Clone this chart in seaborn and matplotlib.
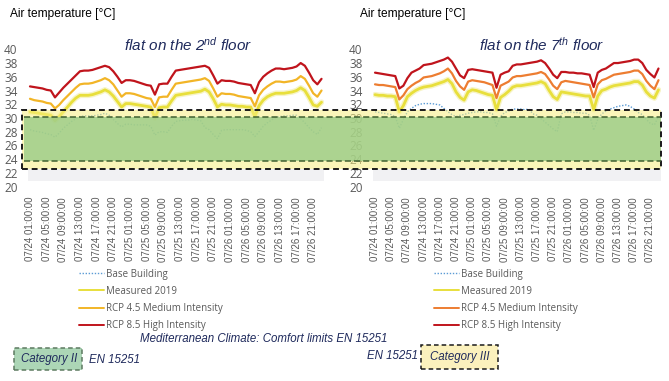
import matplotlib
matplotlib.use("Agg")
import matplotlib.pyplot as plt
import matplotlib.patheffects as pe
from matplotlib.patches import Rectangle
from matplotlib.lines import Line2D
import numpy as np
import seaborn as sns

# hourly values 07/24 01:00 -> 07/26 23:00 (71 points)
TICK_LABELS = [
    "07/24 01:00:00", "07/24 05:00:00", "07/24 09:00:00", "07/24 13:00:00",
    "07/24 17:00:00", "07/24 21:00:00", "07/25 01:00:00", "07/25 05:00:00",
    "07/25 09:00:00", "07/25 13:00:00", "07/25 17:00:00", "07/25 21:00:00",
    "07/26 01:00:00", "07/26 05:00:00", "07/26 09:00:00", "07/26 13:00:00",
    "07/26 17:00:00", "07/26 21:00:00",
]
SERIES = ["Base Building", "Measured 2019", "RCP 4.5 Medium Intensity",
          "RCP 8.5 High Intensity"]

# flat on the 2nd floor
f2_base = [28.3, 28.1, 28.0, 27.9, 27.7, 27.6, 27.2, 27.8, 28.5, 29.0, 29.5, 29.9,
           30.2, 30.3, 30.3, 30.3, 30.4, 30.5, 30.7, 30.4, 29.8, 29.2, 28.7, 29.1,
           29.1, 29.0, 29.0, 29.0, 29.0, 28.8, 27.5, 28.0, 28.0, 27.9, 28.8, 29.5,
           29.6, 29.7, 29.7, 29.8, 29.7, 29.6, 28.6, 28.3, 27.6, 27.0, 28.2, 28.3,
           28.3, 28.3, 28.3, 28.3, 28.2, 28.0, 27.3, 28.0, 28.8, 29.3, 29.7, 30.1,
           30.2, 30.3, 30.3, 30.4, 30.4, 29.9, 29.3, 28.6, 28.0, 27.6, 28.6]
f2_meas = [30.9, 30.8, 30.7, 30.6, 30.5, 30.4, 29.6, 30.2, 30.9, 31.6, 32.3, 32.9,
           33.3, 33.3, 33.3, 33.4, 33.6, 33.8, 34.1, 33.8, 33.2, 32.4, 31.6, 32.1,
           32.1, 32.0, 31.9, 31.8, 31.7, 31.6, 30.0, 31.5, 31.6, 31.6, 32.5, 33.3,
           33.4, 33.5, 33.6, 33.7, 33.8, 33.9, 34.2, 33.8, 32.8, 31.6, 32.0, 31.9,
           31.9, 31.8, 31.7, 31.7, 31.6, 31.6, 30.2, 31.8, 32.6, 33.1, 33.4, 33.6,
           33.6, 33.6, 33.7, 33.8, 34.0, 34.4, 34.0, 33.0, 31.9, 31.7, 32.3]
f2_rcp45 = [32.8, 32.6, 32.5, 32.4, 32.2, 32.1, 31.4, 31.9, 32.6, 33.2, 33.8, 34.4,
            34.9, 35.0, 35.0, 35.1, 35.3, 35.5, 35.8, 35.5, 34.9, 34.0, 33.1, 33.6,
            33.6, 33.5, 33.3, 33.1, 32.9, 32.8, 31.6, 33.0, 33.1, 33.1, 34.1, 35.0,
            35.1, 35.2, 35.3, 35.4, 35.5, 35.6, 35.8, 35.4, 34.3, 33.1, 33.6, 33.5,
            33.5, 33.4, 33.2, 33.1, 33.0, 32.9, 31.7, 33.3, 34.1, 34.6, 35.0, 35.3,
            35.3, 35.2, 35.3, 35.4, 35.6, 36.1, 35.7, 34.7, 33.6, 33.1, 34.0]
f2_rcp85 = [34.6, 34.5, 34.4, 34.3, 34.1, 34.0, 33.0, 33.7, 34.4, 35.0, 35.6, 36.2,
            36.8, 36.9, 36.9, 37.0, 37.2, 37.4, 37.6, 37.4, 36.8, 36.0, 35.1, 35.5,
            35.5, 35.4, 35.2, 35.0, 34.8, 34.7, 33.4, 34.9, 35.0, 35.0, 36.0, 36.9,
            37.0, 37.1, 37.2, 37.3, 37.4, 37.5, 37.6, 37.3, 36.2, 35.0, 35.5, 35.4,
            35.4, 35.3, 35.1, 35.0, 34.9, 34.8, 33.6, 35.2, 36.0, 36.5, 36.9, 37.2,
            37.2, 37.1, 37.2, 37.3, 37.5, 38.0, 37.6, 36.6, 35.5, 34.9, 35.7]

# flat on the 7th floor
f7_base = [30.9, 30.8, 30.7, 30.6, 30.5, 30.2, 28.5, 29.8, 30.9, 31.4, 31.8, 32.0,
           32.1, 32.1, 32.1, 32.0, 31.9, 31.4, 30.9, 30.5, 30.2, 30.4, 30.5, 30.7,
           30.8, 30.9, 30.9, 30.8, 30.8, 30.6, 28.8, 30.2, 30.8, 31.0, 31.3, 31.3,
           31.3, 31.2, 31.3, 30.6, 30.4, 29.9, 29.4, 28.9, 28.4, 28.0, 30.6, 30.9,
           30.9, 30.8, 30.8, 30.7, 30.7, 30.4, 28.2, 29.8, 30.6, 31.0, 31.3, 31.5,
           31.7, 31.8, 31.9, 31.7, 31.3, 30.8, 30.5, 29.8, 29.2, 29.0, 30.2]
f7_meas = [33.4, 33.3, 33.3, 33.2, 33.2, 33.1, 30.9, 31.8, 33.1, 33.6, 34.0, 34.3,
           34.5, 34.6, 34.7, 34.9, 35.1, 35.3, 35.6, 35.0, 33.8, 33.0, 32.6, 33.8,
           34.1, 34.0, 33.8, 33.6, 33.4, 33.3, 31.2, 33.0, 33.4, 33.9, 34.5, 34.7,
           34.7, 34.8, 34.9, 35.0, 35.1, 35.3, 35.0, 34.0, 33.1, 32.7, 33.8, 33.7,
           33.6, 33.5, 33.4, 33.3, 33.2, 33.2, 31.2, 33.2, 34.0, 34.2, 34.5, 34.7,
           34.8, 34.9, 35.0, 35.1, 35.3, 35.3, 34.8, 33.8, 33.2, 32.9, 34.1]
f7_rcp45 = [34.9, 34.8, 34.8, 34.7, 34.6, 34.5, 32.7, 33.3, 34.2, 34.7, 35.1, 35.4,
            35.9, 36.0, 36.1, 36.3, 36.5, 36.8, 37.2, 36.5, 35.4, 34.6, 34.1, 35.3,
            35.5, 35.4, 35.3, 35.2, 35.0, 34.8, 32.9, 34.7, 35.0, 35.3, 35.9, 36.1,
            36.1, 36.2, 36.3, 36.4, 36.5, 36.7, 36.4, 35.6, 34.7, 34.2, 35.2, 35.4,
            35.3, 35.2, 35.1, 35.0, 34.9, 34.8, 33.0, 34.9, 35.5, 35.7, 36.0, 36.3,
            36.4, 36.5, 36.6, 36.7, 36.9, 36.9, 36.4, 35.4, 34.7, 34.2, 35.5]
f7_rcp85 = [36.6, 36.5, 36.4, 36.3, 36.2, 36.1, 34.3, 34.7, 35.8, 36.6, 36.9, 37.2,
            37.7, 37.8, 37.9, 38.1, 38.3, 38.5, 38.8, 38.2, 37.2, 36.2, 35.8, 37.0,
            37.1, 37.0, 36.9, 36.8, 36.7, 36.6, 34.4, 36.3, 36.6, 36.8, 37.6, 37.8,
            37.8, 37.9, 38.0, 38.1, 38.2, 38.4, 38.0, 37.2, 36.3, 35.8, 36.7, 36.7,
            36.6, 36.6, 36.5, 36.5, 36.4, 36.3, 34.5, 36.6, 37.0, 37.2, 37.6, 38.0,
            38.0, 38.1, 38.2, 38.3, 38.5, 38.5, 38.0, 37.0, 36.4, 35.9, 37.2]

# EN 15251 comfort bands (degC)
CAT_III = (22.6, 31.15)
CAT_II = (23.7, 30.2)

W, H = 669, 381
NAVY = "#1f2a5c"
GREY = "#595959"
SANS = "Liberation Sans"

sns.set_theme(style="white")
plt.rcParams["font.family"] = ["Open Sans", "DejaVu Sans"]
plt.rcParams["mathtext.fontset"] = "custom"
plt.rcParams["mathtext.it"] = SANS + ":italic"
plt.rcParams["mathtext.rm"] = SANS


def fx(px):
    return px / W


def fy(py):
    return 1 - py / H


fig = plt.figure(figsize=(W / 100, H / 100), dpi=100)
ax1 = fig.add_axes([fx(27.9), fy(186.7), 295.7 / W, 137.4 / H])
ax2 = fig.add_axes([fx(373), fy(186.7), 287.5 / W, 137.4 / H])


def draw_panel(ax, base, meas, rcp45, rcp85, c45, legend_x):
    x = np.arange(len(base))
    colors = ["#5b9bd5", "#e8df3c", c45, "#c0141c"]
    ax.axhspan(20.9, CAT_III[0], color="#f1f1f3", lw=0, zorder=0)
    sns.lineplot(x=x, y=base, ax=ax, color=colors[0], lw=1.0, ls=(0, (1, 1.2)))
    sns.lineplot(x=x, y=meas, ax=ax, color=colors[1], lw=2.0,
                 path_effects=[pe.Stroke(linewidth=4.0, foreground="#f7f4c6"), pe.Normal()])
    sns.lineplot(x=x, y=rcp45, ax=ax, color=colors[2], lw=1.6)
    sns.lineplot(x=x, y=rcp85, ax=ax, color=colors[3], lw=1.6)
    ax.set_xlim(-0.5, len(base) - 0.5)
    ax.set_ylim(20, 40)
    ax.set_yticks(range(20, 41, 2))
    ax.set_xticks(range(0, len(base), 4))
    ax.set_xticklabels(TICK_LABELS, rotation=90, fontsize=7, family=SANS, color=GREY)
    ax.tick_params(axis="y", length=0, pad=7.5, labelsize=8.5, labelcolor=GREY)
    ax.tick_params(axis="x", length=0, pad=7.4)
    for s in ax.spines.values():
        s.set_visible(False)
    ax.set_facecolor("none")
    handles = [Line2D([], [], color=colors[0], lw=1.0, ls=(0, (1, 1.2))),
               Line2D([], [], color=colors[1], lw=1.4),
               Line2D([], [], color=colors[2], lw=1.4),
               Line2D([], [], color=colors[3], lw=1.4)]
    ax.legend(handles, SERIES, loc="upper left", bbox_to_anchor=(fx(legend_x), fy(268.5)),
              bbox_transform=fig.transFigure, frameon=False, fontsize=7,
              labelcolor=GREY, handlelength=2.6, handletextpad=0.15,
              labelspacing=0.64, borderpad=0, borderaxespad=0)


draw_panel(ax1, f2_base, f2_meas, f2_rcp45, f2_rcp85, "#f2b527", 79)
draw_panel(ax2, f7_base, f7_meas, f7_rcp45, f7_rcp85, "#ed7d31", 434)

# comfort bands laid over both panels
ov = fig.add_axes([0, fy(186.7), 1, 137.4 / H], zorder=5)
ov.set_xlim(0, W)
ov.set_ylim(20, 40)
ov.set_axis_off()
ov.axhspan(*CAT_III, xmin=22 / W, xmax=661 / W, facecolor="#f7ee80", alpha=0.55, lw=0)
ov.axhspan(*CAT_II, xmin=24 / W, xmax=661 / W, facecolor="#99cb86", alpha=0.8, lw=0)
ov.axhspan(*CAT_III, xmin=22 / W, xmax=661 / W, facecolor="none", edgecolor="#1a1a1a",
           lw=1.4, ls=(0, (3, 2)))
for v in CAT_II:
    ov.axhline(v, xmin=24 / W, xmax=661 / W, color="#3f5f30", lw=1.1, ls=(0, (4, 2)))

# texts
for x0 in (10, 360):
    fig.text(fx(x0), fy(14), "Air temperature [°C]", fontsize=8.6, family=SANS,
             ha="left", va="center", color="black")
fig.text(fx(188), fy(45), r"flat on the 2$^{\mathit{nd}}$ floor", fontsize=11,
         family=SANS, style="italic", color=NAVY, ha="center", va="center")
fig.text(fx(542), fy(45), r"flat on the 7$^{\mathit{th}}$ floor", fontsize=11,
         family=SANS, style="italic", color=NAVY, ha="center", va="center")
BOTTOM_FS = 8.3
fig.text(fx(264), fy(339), "Mediterranean Climate: Comfort limits EN 15251",
         fontsize=BOTTOM_FS, family=SANS, style="italic", color=NAVY,
         ha="center", va="center")

fig.add_artist(Rectangle((fx(14), fy(370)), 68 / W, 22 / H, transform=fig.transFigure,
                         facecolor="#acd6b6", edgecolor="#5d7a60", lw=1.1, ls=(0, (3, 2))))
fig.text(fx(49), fy(359), "Category II", fontsize=BOTTOM_FS, family=SANS, style="italic",
         color=NAVY, ha="center", va="center")
fig.text(fx(89), fy(360), "EN 15251", fontsize=BOTTOM_FS, family=SANS, style="italic",
         color=NAVY, ha="left", va="center")
fig.add_artist(Rectangle((fx(421), fy(369)), 77 / W, 24 / H, transform=fig.transFigure,
                         facecolor="#fbf1bd", edgecolor="#1a1a1a", lw=1.1, ls=(0, (3, 2))))
fig.text(fx(460), fy(357), "Category III", fontsize=BOTTOM_FS, family=SANS, style="italic",
         color=NAVY, ha="center", va="center")
fig.text(fx(418), fy(356), "EN 15251", fontsize=BOTTOM_FS, family=SANS, style="italic",
         color=NAVY, ha="right", va="center")

fig.savefig("out.png", dpi=100)
